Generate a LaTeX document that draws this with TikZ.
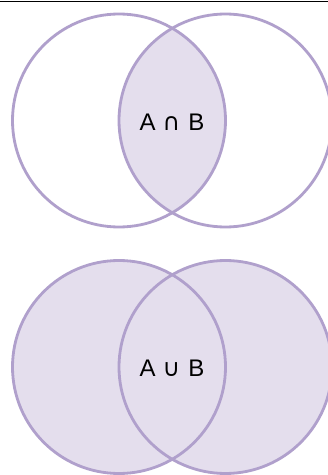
\documentclass[tikz,border=0pt]{standalone}
\usepackage{fontspec}
\setmainfont{Liberation Sans}
\newfontfamily\symfont{DejaVu Sans}
\definecolor{vstroke}{RGB}{176,160,204}
\definecolor{vfill}{RGB}{228,222,237}
\newcommand{\setsym}[1]{\hspace{7pt}{\symfont\fontsize{24}{28}\selectfont #1}\hspace{8pt}}
\begin{document}
\begin{tikzpicture}[x=1pt,y=1pt,
  setcircle/.style={circle,draw=vstroke,line width=2.8pt,minimum size=213pt,inner sep=0pt},
  setlabel/.style={font=\fontsize{24}{28}\selectfont,text=black}]
\useasboundingbox (0,0) rectangle (328,475);
\clip (0,0) rectangle (328,475);
\fill[white] (0,0) rectangle (328,475);
\draw[black,line width=1pt] (0,473) -- (328,473);
% top: intersection
\begin{scope}
  \clip (119,354.5) circle (106.5);
  \fill[vfill] (225.5,354.5) circle (106.5);
\end{scope}
\node[setcircle] (A1) at (119,354.5) {};
\node[setcircle] (B1) at (225.5,354.5) {};
\node[setlabel] (L1) at (172,353) {A\setsym{∩}B};
% bottom: union
\fill[vfill] (119,108) circle (106.5);
\fill[vfill] (225.5,108) circle (106.5);
\node[setcircle] (A2) at (119,108) {};
\node[setcircle] (B2) at (225.5,108) {};
\node[setlabel] (L2) at (172,107) {A\setsym{∪}B};
\end{tikzpicture}
\end{document}
